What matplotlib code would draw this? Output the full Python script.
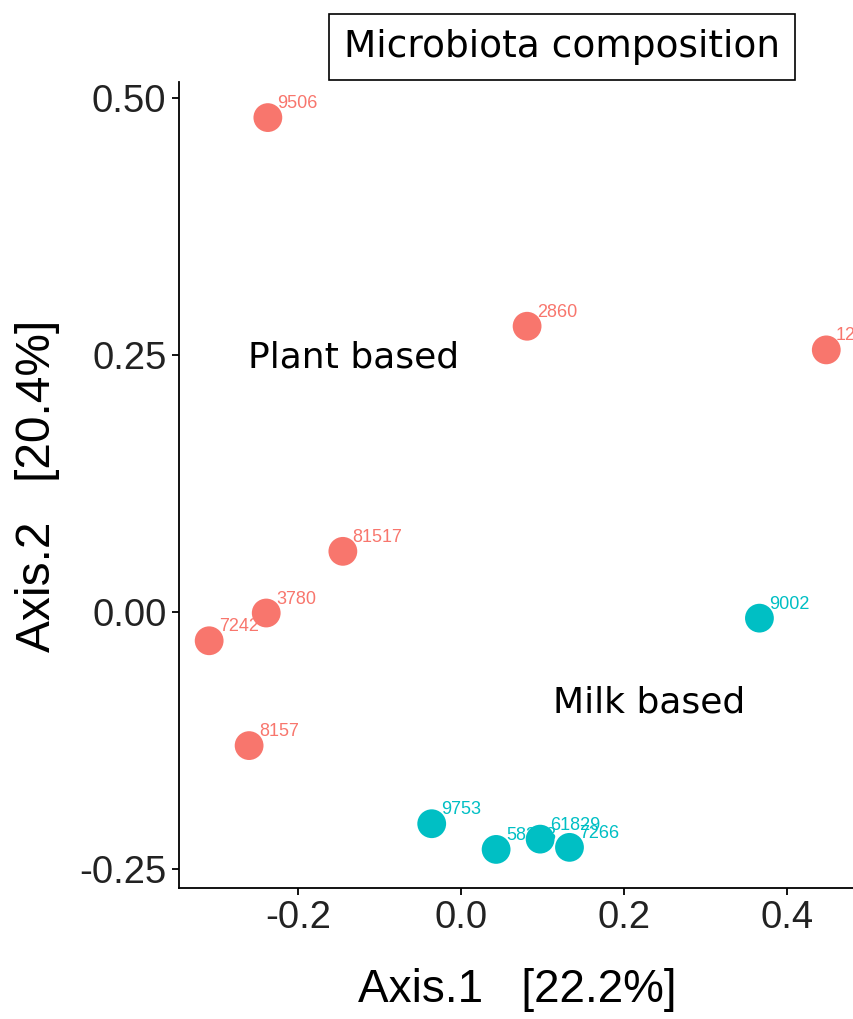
import matplotlib.pyplot as plt

# PCoA coordinates
samples = ["9506", "2860", "1283", "81517", "3780", "7242", "8157",
           "9753", "58323", "61829", "7266", "9002"]
axis1 = [-0.237, 0.081, 0.448, -0.145, -0.239, -0.309, -0.260,
         -0.036, 0.043, 0.097, 0.133, 0.366]
axis2 = [0.481, 0.278, 0.255, 0.059, -0.001, -0.028, -0.130,
         -0.206, -0.231, -0.221, -0.229, -0.006]
diet = ["Plant", "Plant", "Plant", "Plant", "Plant", "Plant", "Plant",
        "Milk", "Milk", "Milk", "Milk", "Milk"]

colors = {"Plant": "#F8766D", "Milk": "#00BFC4"}

fig = plt.figure(figsize=(8.54, 10.19), dpi=100)
ax = fig.add_axes([0.2096, 0.1286, 0.7904, 0.7909])

for i, s in enumerate(samples):
    c = colors[diet[i]]
    ax.scatter(axis1[i], axis2[i], s=430, color=c, edgecolors="none", zorder=3)
    ax.annotate(s, (axis1[i], axis2[i]), xytext=(7, 10), textcoords="offset points",
                ha="left", va="center", fontsize=13, color=c,
                family="Liberation Sans", zorder=2)

ax.set_xlim(-0.346, 0.482)
ax.set_ylim(-0.2685, 0.5156)
ax.set_xticks([-0.2, 0.0, 0.2, 0.4])
ax.set_xticklabels(["-0.2", "0.0", "0.2", "0.4"])
ax.set_yticks([-0.25, 0.0, 0.25, 0.5])
ax.set_yticklabels(["-0.25", "0.00", "0.25", "0.50"])

for side in ["top", "right"]:
    ax.spines[side].set_visible(False)
for side in ["left", "bottom"]:
    ax.spines[side].set_linewidth(1.3)
ax.tick_params(length=5, width=1.3, labelsize=27.5, labelcolor="#222222", pad=4)
for lab in ax.get_xticklabels() + ax.get_yticklabels():
    lab.set_family("Liberation Sans")

ax.set_xlabel("Axis.1   [22.2%]", fontsize=33, family="Liberation Sans")
ax.set_ylabel("Axis.2   [20.4%]", fontsize=34.5, family="Liberation Sans")
ax.xaxis.set_label_coords(0.5007, -0.1266)
ax.yaxis.set_label_coords(-0.209, 0.4988)
ax.xaxis.label.set_va("center")
ax.yaxis.label.set_va("center")

ax.text(-0.261, 0.248, "Plant based", fontsize=26, family="DejaVu Sans",
        ha="left", va="center")
ax.text(0.113, -0.0885, "Milk based", fontsize=26, family="DejaVu Sans",
        ha="left", va="center")

fig.text(0.658, 0.954, "Microbiota composition", fontsize=27, family="DejaVu Sans",
         ha="center", va="center",
         bbox=dict(boxstyle="square,pad=0.4", facecolor="white", edgecolor="black", linewidth=1.2))

plt.savefig("out.png", dpi=100)
